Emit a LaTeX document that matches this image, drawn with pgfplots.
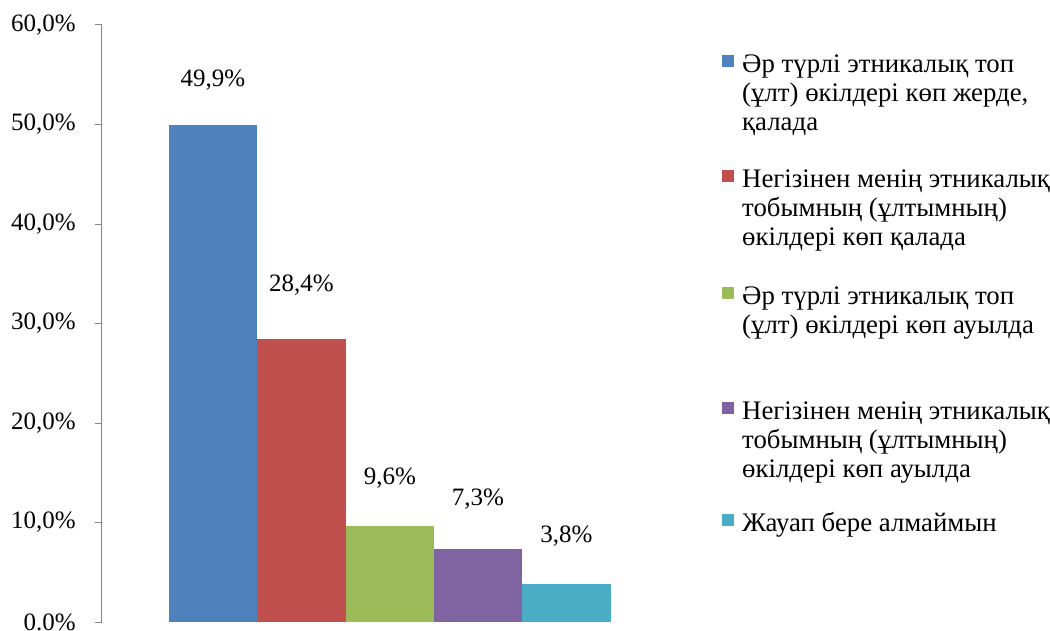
\documentclass[border=0pt]{standalone}
\usepackage{fontspec}
\setmainfont{Liberation Serif}
\usepackage{pgfplots}
\pgfplotsset{compat=1.18}
\definecolor{c1}{HTML}{4F81BD}
\definecolor{c2}{HTML}{C0504D}
\definecolor{c3}{HTML}{9BBB59}
\definecolor{c4}{HTML}{8064A2}
\definecolor{c5}{HTML}{4BACC6}
\definecolor{axisgray}{HTML}{868686}
\begin{document}
\begin{tikzpicture}[font=\fontsize{25}{29}\selectfont]
\useasboundingbox (0,0) rectangle (1050pt,630pt);
\begin{axis}[
  at={(102pt,8pt)}, anchor=south west,
  scale only axis, width=578pt, height=597pt,
  xmin=102, xmax=680, ymin=0, ymax=60,
  axis lines*=left,
  x axis line style={draw=none},
  y axis line style={color=axisgray, line width=1pt},
  xtick=\empty,
  ytick={0,10,20,30,40,50,60},
  yticklabels={{0.0\%},{10,0\%},{20,0\%},{30,0\%},{40,0\%},{50,0\%},{60,0\%}},
  tick align=outside,
  major tick length=7pt,
  ytick style={color=axisgray, line width=1pt},
  yticklabel style={font=\fontsize{25}{29}\selectfont, anchor=east, inner sep=0pt, xshift=-19pt},
  point meta=explicit symbolic,
  nodes near coords,
  every node near coord/.append style={font=\fontsize{25}{29}\selectfont, anchor=base, inner sep=0pt},
  legend style={at={(1.0727,0.9548)}, anchor=north west, draw=none, fill=none, inner sep=0pt,
    column sep=8pt, row sep=0pt, font=\fontsize{26.8}{29}\selectfont,
    nodes={inner sep=0pt}},
  legend cell align=left,
  legend image code/.code={\fill[#1] (0pt,5pt) rectangle (12pt,17pt);},
]
\addplot[ybar, bar width=88.4pt, bar shift=0pt, fill=c1, draw=none,
  every node near coord/.append style={yshift=38.5pt}] coordinates {(213,49.9) [49,9\%]};
\addlegendentry[anchor=base west, text height=20pt, text depth=95pt]{\parbox[t]{330pt}{Әр түрлі этникалық топ\\(ұлт) өкілдері көп жерде,\\қалада}}
\addplot[ybar, bar width=88.4pt, bar shift=0pt, fill=c2, draw=none,
  every node near coord/.append style={yshift=48pt}] coordinates {(301.5,28.4) [28,4\%]};
\addlegendentry[anchor=base west, text height=20pt, text depth=97pt]{\parbox[t]{330pt}{Негізінен менің этникалық\\тобымның (ұлтымның)\\өкілдері көп қалада}}
\addplot[ybar, bar width=88.4pt, bar shift=0pt, fill=c3, draw=none,
  every node near coord/.append style={yshift=41.5pt}] coordinates {(390,9.6) [9,6\%]};
\addlegendentry[anchor=base west, text height=20pt, text depth=95pt]{\parbox[t]{330pt}{Әр түрлі этникалық топ\\(ұлт) өкілдері көп ауылда}}
\addplot[ybar, bar width=88.4pt, bar shift=0pt, fill=c4, draw=none,
  every node near coord/.append style={yshift=44pt}] coordinates {(478,7.3) [7,3\%]};
\addlegendentry[anchor=base west, text height=20pt, text depth=92pt]{\parbox[t]{330pt}{Негізінен менің этникалық\\тобымның (ұлтымның)\\өкілдері көп ауылда}}
\addplot[ybar, bar width=88.4pt, bar shift=0pt, fill=c5, draw=none,
  every node near coord/.append style={yshift=42pt}] coordinates {(566.5,3.8) [3,8\%]};
\addlegendentry[anchor=base west, text height=20pt, text depth=8pt]{\parbox[t]{330pt}{Жауап бере алмаймын}}
\end{axis}
\end{tikzpicture}
\end{document}
